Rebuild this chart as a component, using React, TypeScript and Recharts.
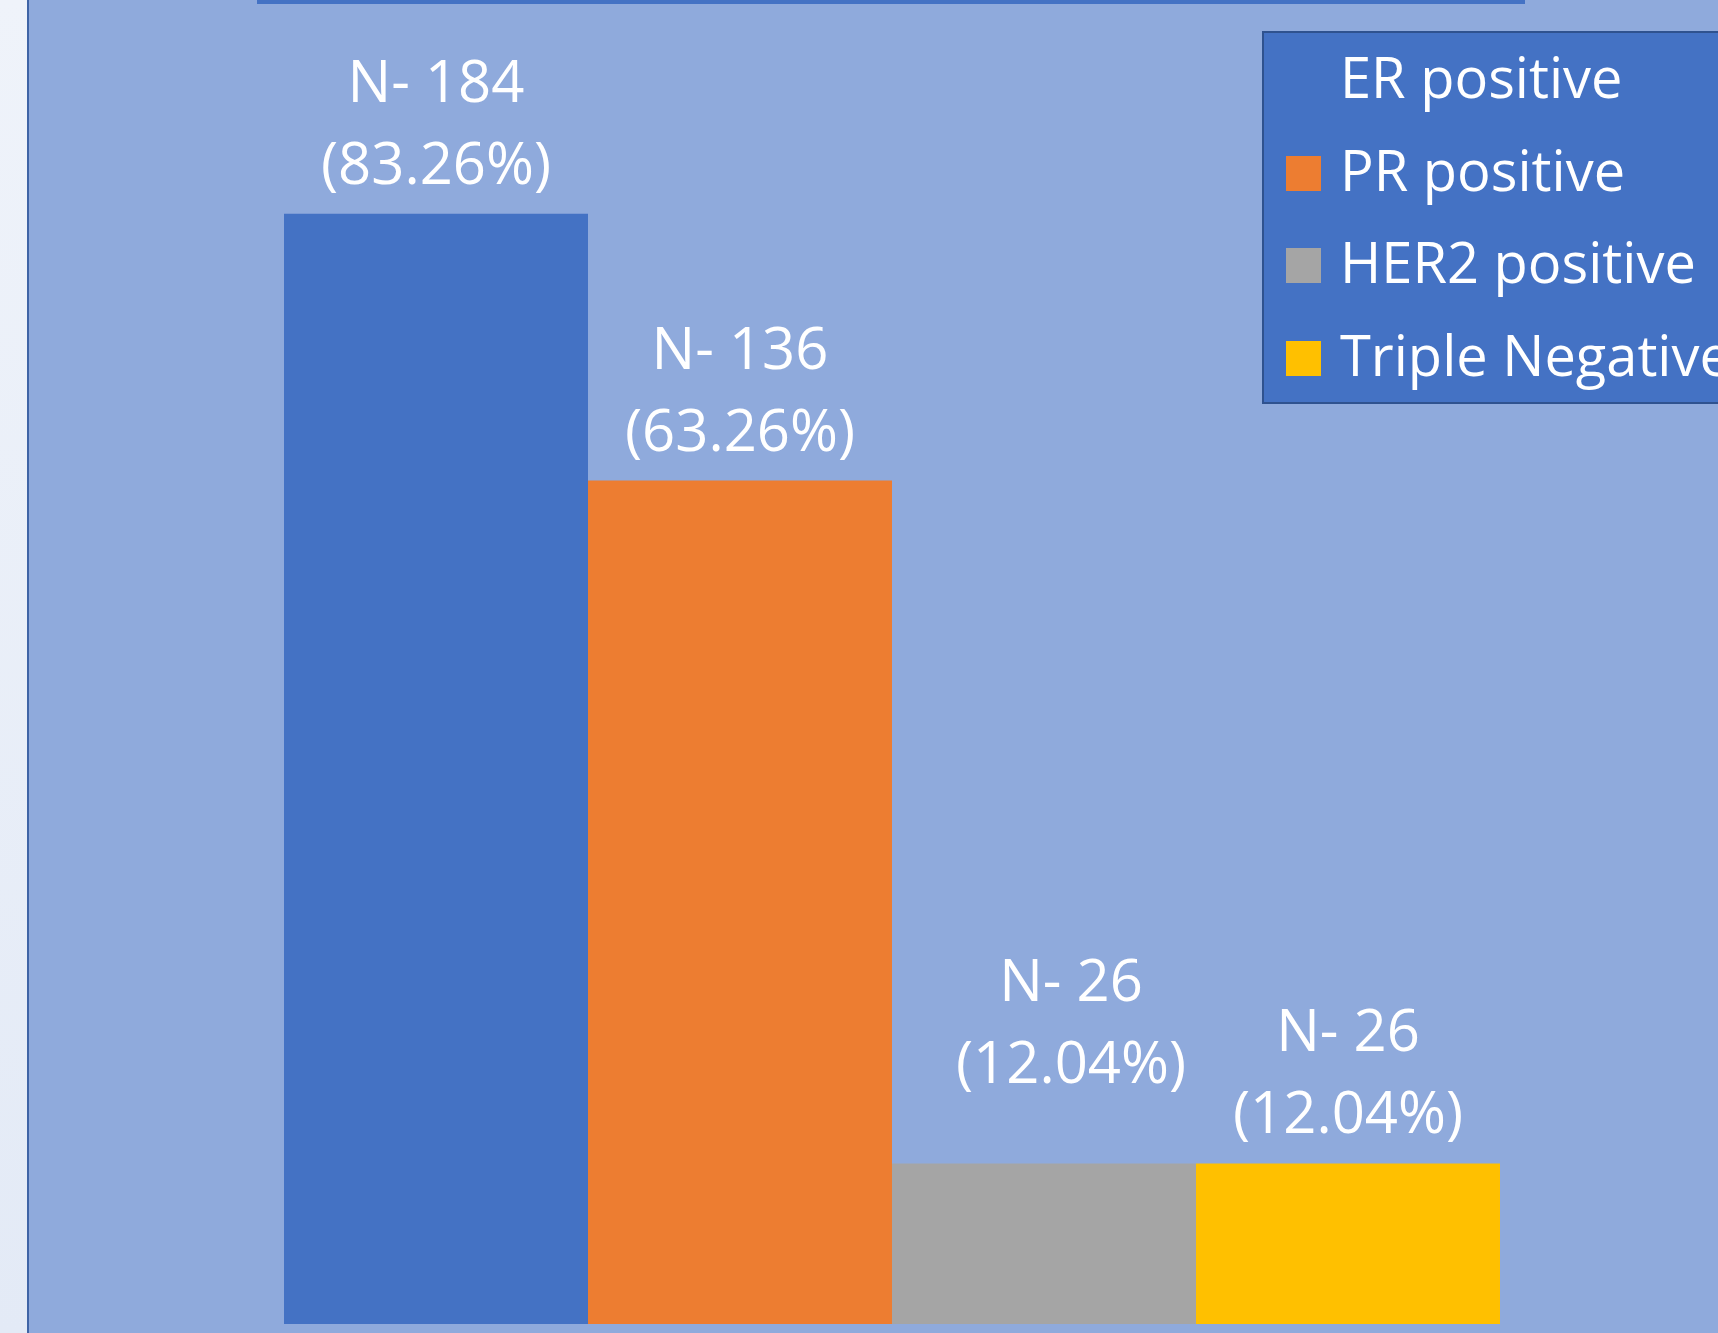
import React from 'react';
import { BarChart, Bar, XAxis, YAxis, Legend, LabelList } from 'recharts';

const categories = ['ER positive', 'PR positive', 'HER2 positive', 'Triple Negative'];
const seriesKeys = ['er', 'pr', 'her2', 'tnbc'];
const counts = [184, 136, 26, 26];
const percents = [83.26, 63.26, 12.04, 12.04];
const colors = ['#4472C4', '#ED7D31', '#A5A5A5', '#FFC000'];

const row: Record<string, number | string> = { name: 'Receptor status' };
seriesKeys.forEach((k, i) => {
  row[k] = percents[i];
});
const data = [row];

const FONT = '"Open Sans", sans-serif';

// manual label nudges (as moved in the original chart)
const labelNudge: Record<string, { dx: number; dy: number }> = {
  her2: { dx: 27, dy: -50 },
};

const makeLabel = (idx: number) => (props: any) => {
  const { x, y, width } = props;
  const key = seriesKeys[idx];
  const n = labelNudge[key] || { dx: 0, dy: 0 };
  const cx = Number(x) + Number(width) / 2 + n.dx;
  const top = Number(y) + n.dy;
  return (
    <g>
      <text x={cx} y={top - 112} textAnchor="middle" fill="#FFFFFF" fontFamily={FONT} fontSize={58}>
        {`N- ${counts[idx]}`}
      </text>
      <text x={cx} y={top - 30} textAnchor="middle" fill="#FFFFFF" fontFamily={FONT} fontSize={58}>
        {`(${percents[idx].toFixed(2)}%)`}
      </text>
    </g>
  );
};

const LegendBox = (props: any) => {
  const payload = [...(props.payload || [])].sort(
    (a: any, b: any) => categories.indexOf(a.value) - categories.indexOf(b.value)
  );
  return (
    <div
      style={{
        width: 520,
        height: 373,
        boxSizing: 'border-box',
        background: '#4472C4',
        border: '2px solid #2F528F',
        paddingTop: 1,
        fontFamily: FONT,
      }}
    >
      {payload.map((p: any, i: number) => (
        <div key={i} style={{ height: 92.5, position: 'relative' }}>
          <div style={{ position: 'absolute', left: 22, top: 29, width: 35, height: 35, background: p.color }} />
          <span
            style={{
              position: 'absolute',
              left: 76,
              top: -4,
              color: '#FFFFFF',
              fontSize: 56,
              lineHeight: '92px',
              whiteSpace: 'nowrap',
            }}
          >
            {p.value}
          </span>
        </div>
      ))}
    </div>
  );
};

export default function App() {
  return (
    <div
      style={{
        position: 'absolute',
        left: 0,
        top: 0,
        width: 1718,
        height: 1333,
        overflow: 'hidden',
        background: '#8FAADC',
      }}
    >
      <div
        style={{
          position: 'absolute',
          left: 0,
          top: 0,
          width: 27,
          height: 1333,
          background: 'linear-gradient(180deg, #EFF3FA 0%, #E3EAF6 100%)',
          borderRight: '2px solid #3F64A6',
        }}
      />
      <div
        style={{
          position: 'absolute',
          left: 257,
          top: 0,
          width: 1268,
          height: 4,
          background: '#4472C4',
        }}
      />
      <div style={{ position: 'absolute', left: 0, top: 0 }}>
        <BarChart
          width={1718}
          height={1333}
          data={data}
          margin={{ top: 124, bottom: 9, left: 284, right: 218 }}
          barCategoryGap={0}
          barGap={0}
        >
          <XAxis dataKey="name" hide />
          <YAxis hide domain={[0, 90]} />
          <Legend
            layout="horizontal"
            verticalAlign="middle"
            align="center"
            content={<LegendBox />}
            wrapperStyle={{ top: 31, left: 1262, width: 520, height: 373 }}
          />
          {seriesKeys.map((k, i) => (
            <Bar key={k} dataKey={k} name={categories[i]} fill={colors[i]} isAnimationActive={false}>
              <LabelList dataKey={k} content={makeLabel(i)} />
            </Bar>
          ))}
        </BarChart>
      </div>
    </div>
  );
}
